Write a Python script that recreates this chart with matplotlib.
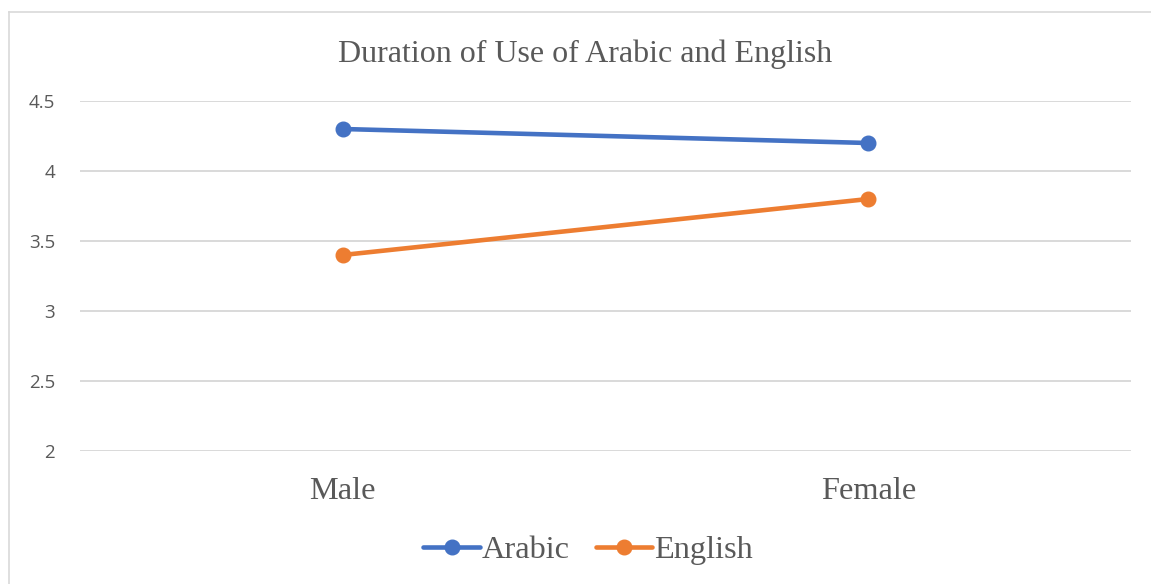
import matplotlib
matplotlib.use("Agg")
import matplotlib.pyplot as plt
from matplotlib.lines import Line2D

categories = ["Male", "Female"]
arabic = [4.3, 4.2]
english = [3.4, 3.8]
yticks = [2, 2.5, 3, 3.5, 4, 4.5]
ytick_labels = ["2", "2.5", "3", "3.5", "4", "4.5"]

W, H = 1151, 584
fig = plt.figure(figsize=(W / 100, H / 100), dpi=100)
fig.patch.set_facecolor("white")

# outer frame (top and left visible)
fig.add_artist(Line2D([8.5 / W, 8.5 / W], [0, 1 - 12 / H], transform=fig.transFigure,
                      color="#d9d9d9", lw=1.2))
fig.add_artist(Line2D([8.5 / W, 1], [1 - 12 / H, 1 - 12 / H], transform=fig.transFigure,
                      color="#d9d9d9", lw=1.2))

left, right = 80 / W, 1131 / W
bottom, top = (H - 451) / H, (H - 101) / H
ax = fig.add_axes([left, bottom, right - left, top - bottom])

x = list(range(len(categories)))
blue = "#4472C4"
orange = "#ED7D31"
ax.plot(x, arabic, color=blue, lw=3.3, marker="o", markersize=10.5, label="Arabic",
        clip_on=False, zorder=3, solid_capstyle="round")
ax.plot(x, english, color=orange, lw=3.3, marker="o", markersize=10.5, label="English",
        clip_on=False, zorder=3, solid_capstyle="round")

ax.set_xlim(-0.5, len(categories) - 0.5)
ax.set_ylim(2, 4.5)
ax.set_yticks(yticks)
ax.set_yticklabels(ytick_labels, fontfamily="Open Sans", fontsize=13.5, color="#595959")
ax.set_xticks(x)
ax.set_xticklabels(categories, fontfamily="Liberation Serif", fontsize=23.3, color="#595959")
ax.tick_params(axis="y", length=0, pad=18)
ax.tick_params(axis="x", length=0, pad=19)
ax.grid(axis="y", color="#d9d9d9", lw=1.4)
ax.set_axisbelow(True)
for s in ax.spines.values():
    s.set_visible(False)

fig.text(585 / W, 1 - 54 / H, "Duration of Use of Arabic and English",
         fontfamily="Liberation Serif", fontsize=23, color="#595959",
         ha="center", va="center")

leg = fig.legend(loc="center", bbox_to_anchor=(588 / W, 1 - 550 / H), ncol=2,
                 frameon=False, prop={"family": "Liberation Serif", "size": 23.3},
                 labelcolor="#595959", handlelength=1.75, handletextpad=0.05,
                 columnspacing=0.8)

fig.savefig("out.png", dpi=100, facecolor="white")
